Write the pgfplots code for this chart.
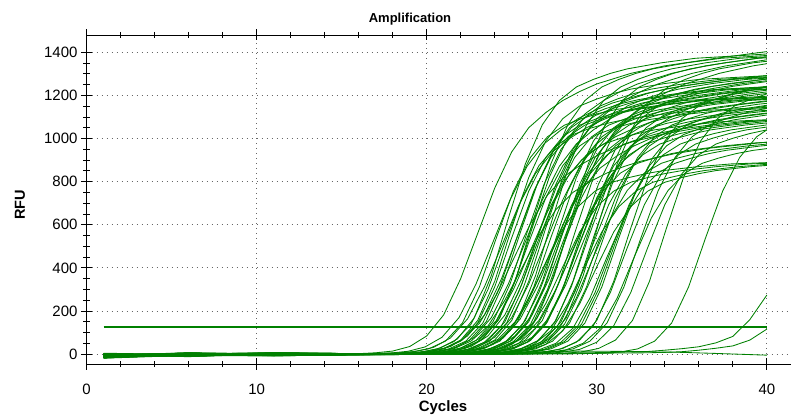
\documentclass[border=0pt]{standalone}
\usepackage{fontspec}
\setmainfont{Liberation Sans}
\usepackage{pgfplots}
\pgfplotsset{compat=1.18}
\definecolor{qgreen}{RGB}{0,128,0}
\tikzset{amp/.style={qgreen, line width=0.85bp}}

\begin{document}
\begin{tikzpicture}
\path[use as bounding box] (0,0) rectangle (791bp,417bp);
\begin{axis}[
  at={(86.5bp,53bp)}, anchor=south west,
  scale only axis, width=714.4bp, height=329bp,
  xmin=0, xmax=42, ymin=-46, ymax=1480,
  xtick={0,10,20,30,40}, ytick={0,200,...,1400},
  minor x tick num=4, minor y tick num=3,
  tick align=center, major tick length=11bp, minor tick length=6bp,
  tick style={black, line width=0.8bp},
  grid=major, major grid style={black!60, line width=0.9bp, dash pattern=on 1bp off 4bp},
  axis line style={black, line width=0.9bp},
  ticklabel style={font=\fontsize{15bp}{18bp}\selectfont},
  xticklabel style={yshift=-11bp},
  /pgf/number format/assume math mode=true,
  /pgf/number format/1000 sep={},
]
% samples, early to late
\addplot[amp] coordinates {(1,-12)(6,-4)(11,3)(15,-2)(17,6)(18,14)(19,35)(20,84)(21,182)(22,350)(23,560)(24,770)(25,938)(26,1050)(27,1120)(28,1176)(29,1218)(30,1253)(32,1302)(34,1337)(37,1372)(40,1403)};
\addplot[amp] coordinates {(1,-15)(6,2)(11,-5)(15.9,1)(17.9,5)(18.9,13)(19.9,33)(20.9,78)(21.9,169)(22.9,325)(23.9,520)(24.9,715)(25.9,871)(26.9,975)(27.9,1040)(28.9,1092)(29.9,1131)(30.9,1164)(32.9,1209)(34.9,1242)(37.9,1274)(40,1292)};
\addplot[amp] coordinates {(1,-6)(6,-10)(11,4)(16.1,-1)(18.1,4)(19.1,10)(20.1,24)(21.1,60)(22.1,144)(23.1,312)(24.1,540)(25.1,756)(26.1,912)(27.1,1008)(28.1,1062)(29.1,1092)(30.1,1116)(31.1,1134)(33.1,1158)(35.1,1176)(38.1,1188)(40,1196)};
\addplot[amp] coordinates {(1,3)(6,-7)(11,-2)(16.4,2)(18.4,5)(19.4,13)(20.4,31)(21.4,75)(22.4,163)(23.4,313)(24.4,500)(25.4,688)(26.4,838)(27.4,938)(28.4,1000)(29.4,1050)(30.4,1088)(31.4,1119)(33.4,1163)(35.4,1194)(38.4,1225)(40,1239)};
\addplot[amp] coordinates {(1,-18)(6,0)(11,6)(16.6,-3)(18.6,3)(19.6,9)(20.6,23)(21.6,58)(22.6,138)(23.6,299)(24.6,518)(25.6,725)(26.6,874)(27.6,966)(28.6,1018)(29.6,1047)(30.6,1070)(31.6,1087)(33.6,1110)(35.6,1127)(38.6,1139)(40,1144)};
\addplot[amp] coordinates {(1,-9)(6,5)(11,-3)(16.8,0)(18.8,4)(19.8,11)(20.8,28)(21.8,70)(22.8,168)(23.8,364)(24.8,630)(25.8,882)(26.8,1064)(27.8,1176)(28.8,1239)(29.8,1274)(30.8,1302)(31.8,1323)(33.8,1351)(35.8,1372)(38.8,1386)(40,1392)};
\addplot[amp] coordinates {(1,-4)(6,-12)(11,1)(17,2)(19,4)(20,10)(21,26)(22,65)(23,156)(24,338)(25,585)(26,819)(27,988)(28,1092)(29,1151)(30,1183)(31,1209)(32,1229)(34,1255)(36,1274)(39,1287)(40,1291)};
\addplot[amp] coordinates {(1,0)(6,-11)(11,2)(17,1)(19,4)(20,10)(21,24)(22,60)(23,144)(24,312)(25,540)(26,756)(27,912)(28,1008)(29,1062)(30,1092)(31,1116)(32,1134)(34,1158)(36,1176)(39,1188)(40,1192)};
\addplot[amp] coordinates {(1,0)(6,-6)(11,-9)(17.1,1)(19.1,4)(20.1,11)(21.1,28)(22.1,66)(23.1,143)(24.1,275)(25.1,440)(26.1,605)(27.1,737)(28.1,825)(29.1,880)(30.1,924)(31.1,957)(32.1,985)(34.1,1023)(36.1,1051)(39.1,1078)(40,1085)};
\addplot[amp] coordinates {(1,-14)(6,3)(11,-1)(17.3,-2)(19.3,4)(20.3,10)(21.3,24)(22.3,60)(23.3,144)(24.3,312)(25.3,540)(26.3,756)(27.3,912)(28.3,1008)(29.3,1062)(30.3,1092)(31.3,1116)(32.3,1134)(34.3,1158)(36.3,1176)(39.3,1188)(40,1190)};
\addplot[amp] coordinates {(1,-8)(6,1)(11,-2)(17.4,0)(19.4,6)(20.4,14)(21.4,35)(22.4,84)(23.4,182)(24.4,350)(25.4,560)(26.4,770)(27.4,938)(28.4,1050)(29.4,1120)(30.4,1176)(31.4,1218)(32.4,1253)(34.4,1302)(36.4,1337)(39.4,1372)(40,1378)};
\addplot[amp] coordinates {(1,-7)(6,-2)(11,7)(17.5,0)(19.5,4)(20.5,10)(21.5,25)(22.5,63)(23.5,150)(24.5,325)(25.5,563)(26.5,788)(27.5,950)(28.5,1050)(29.5,1106)(30.5,1138)(31.5,1163)(32.5,1181)(34.5,1206)(36.5,1225)(39.5,1238)(40,1240)};
\addplot[amp] coordinates {(1,-16)(6,-5)(11,2)(17.6,-1)(19.6,4)(20.6,10)(21.6,25)(22.6,60)(23.6,130)(24.6,250)(25.6,400)(26.6,550)(27.6,670)(28.6,750)(29.6,800)(30.6,840)(31.6,870)(32.6,895)(34.6,930)(36.6,955)(39.6,980)(40,983)};
\addplot[amp] coordinates {(1,2)(6,-8)(11,-4)(17.8,1)(19.8,5)(20.8,13)(21.8,33)(22.8,78)(23.8,169)(24.8,325)(25.8,520)(26.8,715)(27.8,871)(28.8,975)(29.8,1040)(30.8,1092)(31.8,1131)(32.8,1164)(34.8,1209)(36.8,1242)(39.8,1274)(40,1276)};
\addplot[amp] coordinates {(1,-9)(6,5)(11,-1)(17.9,0)(19.9,4)(20.9,10)(21.9,25)(22.9,63)(23.9,150)(24.9,325)(25.9,563)(26.9,788)(27.9,950)(28.9,1050)(29.9,1106)(30.9,1138)(31.9,1163)(32.9,1181)(34.9,1206)(36.9,1225)(39.9,1238)(40,1238)};
\addplot[amp] coordinates {(1,-10)(6,4)(11,-6)(18,0)(20,3)(21,9)(22,23)(23,58)(24,138)(25,299)(26,518)(27,725)(28,874)(29,966)(30,1018)(31,1047)(32,1070)(33,1087)(35,1110)(37,1127)(40,1139)};
\addplot[amp] coordinates {(1,-3)(6,-11)(11,5)(18.1,-2)(20.1,5)(21.1,12)(22.1,30)(23.1,72)(24.1,156)(25.1,300)(26.1,480)(27.1,660)(28.1,804)(29.1,900)(30.1,960)(31.1,1008)(32.1,1044)(33.1,1074)(35.1,1116)(37.1,1146)(40,1175)};
\addplot[amp] coordinates {(1,-17)(6,-2)(11,1)(18.2,-1)(20.2,4)(21.2,10)(22.2,26)(23.2,65)(24.2,156)(25.2,338)(26.2,585)(27.2,819)(28.2,988)(29.2,1092)(30.2,1151)(31.2,1183)(32.2,1209)(33.2,1229)(35.2,1255)(37.2,1274)(40,1286)};
\addplot[amp] coordinates {(1,-13)(6,1)(11,-3)(18.3,1)(20.3,4)(21.3,11)(22.3,28)(23.3,70)(24.3,168)(25.3,364)(26.3,630)(27.3,882)(28.3,1064)(29.3,1176)(30.3,1239)(31.3,1274)(32.3,1302)(33.3,1323)(35.3,1351)(37.3,1372)(40,1385)};
\addplot[amp] coordinates {(1,-5)(6,6)(11,-8)(18.4,0)(20.4,3)(21.4,9)(22.4,22)(23.4,55)(24.4,132)(25.4,286)(26.4,495)(27.4,693)(28.4,836)(29.4,924)(30.4,974)(31.4,1001)(32.4,1023)(33.4,1040)(35.4,1062)(37.4,1078)(40,1087)};
\addplot[amp] coordinates {(1,-17)(6,-3)(11,3)(18.6,-1)(20.6,4)(21.6,10)(22.6,25)(23.6,63)(24.6,150)(25.6,325)(26.6,563)(27.6,788)(28.6,950)(29.6,1050)(30.6,1106)(31.6,1138)(32.6,1163)(33.6,1181)(35.6,1206)(37.6,1225)(40,1235)};
\addplot[amp] coordinates {(1,-14)(6,0)(11,-4)(18.6,2)(20.6,6)(21.6,14)(22.6,35)(23.6,84)(24.6,182)(25.6,350)(26.6,560)(27.6,770)(28.6,938)(29.6,1050)(30.6,1120)(31.6,1176)(32.6,1218)(33.6,1253)(35.6,1302)(37.6,1337)(40,1365)};
\addplot[amp] coordinates {(1,1)(6,-7)(11,0)(18.7,2)(20.7,4)(21.7,10)(22.7,24)(23.7,60)(24.7,144)(25.7,312)(26.7,540)(27.7,756)(28.7,912)(29.7,1008)(30.7,1062)(31.7,1092)(32.7,1116)(33.7,1134)(35.7,1158)(37.7,1176)(40,1186)};
\addplot[amp] coordinates {(1,-11)(6,2)(11,-4)(18.9,1)(20.9,3)(21.9,7)(22.9,18)(23.9,45)(24.9,108)(25.9,234)(26.9,405)(27.9,567)(28.9,684)(29.9,756)(30.9,797)(31.9,819)(32.9,837)(33.9,851)(35.9,869)(37.9,882)(40,888)};
\addplot[amp] coordinates {(1,-8)(6,-1)(11,6)(19,-1)(21,4)(22,10)(23,26)(24,65)(25,156)(26,338)(27,585)(28,819)(29,988)(30,1092)(31,1151)(32,1183)(33,1209)(34,1229)(36,1255)(38,1274)(40,1283)};
\addplot[amp] coordinates {(1,-5)(6,3)(11,-7)(19,0)(21,5)(22,13)(23,33)(24,78)(25,169)(26,325)(27,520)(28,715)(29,871)(30,975)(31,1040)(32,1092)(33,1131)(34,1164)(36,1209)(38,1242)(40,1264)};
\addplot[amp] coordinates {(1,-2)(6,-9)(11,-2)(19.2,0)(21.2,5)(22.2,12)(23.2,29)(24.2,69)(25.2,150)(26.2,288)(27.2,460)(28.2,633)(29.2,771)(30.2,863)(31.2,920)(32.2,966)(33.2,1001)(34.2,1029)(36.2,1070)(38.2,1098)(40,1116)};
\addplot[amp] coordinates {(1,-15)(6,4)(11,1)(19.3,-2)(21.3,4)(22.3,10)(23.3,24)(24.3,60)(25.3,144)(26.3,312)(27.3,540)(28.3,756)(29.3,912)(30.3,1008)(31.3,1062)(32.3,1092)(33.3,1116)(34.3,1134)(36.3,1158)(38.3,1176)(40,1183)};
\addplot[amp] coordinates {(1,-12)(6,-4)(11,4)(19.4,1)(21.4,4)(22.4,11)(23.4,28)(24.4,70)(25.4,168)(26.4,364)(27.4,630)(28.4,882)(29.4,1064)(30.4,1176)(31.4,1239)(32.4,1274)(33.4,1302)(34.4,1323)(36.4,1351)(38.4,1372)(40,1379)};
\addplot[amp] coordinates {(1,-6)(6,-4)(11,-7)(19.5,1)(21.5,5)(22.5,13)(23.5,31)(24.5,75)(25.5,163)(26.5,313)(27.5,500)(28.5,688)(29.5,838)(30.5,938)(31.5,1000)(32.5,1050)(33.5,1088)(34.5,1119)(36.5,1163)(38.5,1194)(40,1209)};
\addplot[amp] coordinates {(1,4)(6,-2)(11,2)(19.6,0)(21.6,3)(22.6,9)(23.6,22)(24.6,55)(25.6,132)(26.6,286)(27.6,495)(28.6,693)(29.6,836)(30.6,924)(31.6,974)(32.6,1001)(33.6,1023)(34.6,1040)(36.6,1062)(38.6,1078)(40,1083)};
\addplot[amp] coordinates {(1,-19)(6,-6)(11,4)(19.8,-1)(21.8,4)(22.8,10)(23.8,26)(24.8,65)(25.8,156)(26.8,338)(27.8,585)(28.8,819)(29.8,988)(30.8,1092)(31.8,1151)(32.8,1183)(33.8,1209)(34.8,1229)(36.8,1255)(38.8,1274)(40,1280)};
\addplot[amp] coordinates {(1,-9)(6,3)(11,-5)(19.9,1)(21.9,4)(22.9,10)(23.9,24)(24.9,60)(25.9,144)(26.9,312)(27.9,540)(28.9,756)(29.9,912)(30.9,1008)(31.9,1062)(32.9,1092)(33.9,1116)(34.9,1134)(36.9,1158)(38.9,1176)(40,1181)};
\addplot[amp] coordinates {(1,-2)(6,4)(11,-3)(20,0)(22,4)(23,10)(24,25)(25,63)(26,150)(27,325)(28,563)(29,788)(30,950)(31,1050)(32,1106)(33,1138)(34,1163)(35,1181)(37,1206)(39,1225)(40,1229)};
\addplot[amp] coordinates {(1,-7)(6,2)(11,-4)(20,1)(22,3)(23,7)(24,18)(25,45)(26,108)(27,234)(28,405)(29,567)(30,684)(31,756)(32,797)(33,819)(34,837)(35,851)(37,869)(39,882)(40,885)};
\addplot[amp] coordinates {(1,-1)(6,-10)(11,0)(20.1,-1)(22.1,3)(23.1,9)(24.1,23)(25.1,58)(26.1,138)(27.1,299)(28.1,518)(29.1,725)(30.1,874)(31.1,966)(32.1,1018)(33.1,1047)(34.1,1070)(35.1,1087)(37.1,1110)(39.1,1127)(40,1130)};
\addplot[amp] coordinates {(1,-16)(6,-5)(11,3)(20.2,0)(22.2,6)(23.2,14)(24.2,35)(25.2,84)(26.2,182)(27.2,350)(28.2,560)(29.2,770)(30.2,938)(31.2,1050)(32.2,1120)(33.2,1176)(34.2,1218)(35.2,1253)(37.2,1302)(39.2,1337)(40,1347)};
\addplot[amp] coordinates {(1,-12)(6,1)(11,5)(20.3,0)(22.3,4)(23.3,10)(24.3,25)(25.3,63)(26.3,150)(27.3,325)(28.3,563)(29.3,788)(30.3,950)(31.3,1050)(32.3,1106)(33.3,1138)(34.3,1163)(35.3,1181)(37.3,1206)(39.3,1225)(40,1227)};
\addplot[amp] coordinates {(1,-7)(6,-5)(11,-3)(20.4,2)(22.4,3)(23.4,8)(24.4,20)(25.4,50)(26.4,120)(27.4,260)(28.4,450)(29.4,630)(30.4,760)(31.4,840)(32.4,885)(33.4,910)(34.4,930)(35.4,945)(37.4,965)(39.4,980)(40,982)};
\addplot[amp] coordinates {(1,-1)(6,-8)(11,2)(20.5,1)(22.5,4)(23.5,11)(24.5,28)(25.5,70)(26.5,168)(27.5,364)(28.5,630)(29.5,882)(30.5,1064)(31.5,1176)(32.5,1239)(33.5,1274)(34.5,1302)(35.5,1323)(37.5,1351)(39.5,1372)(40,1374)};
\addplot[amp] coordinates {(1,-14)(6,5)(11,-1)(20.6,0)(22.6,5)(23.6,12)(24.6,30)(25.6,72)(26.6,156)(27.6,300)(28.6,480)(29.6,660)(30.6,804)(31.6,900)(32.6,960)(33.6,1008)(34.6,1044)(35.6,1074)(37.6,1116)(39.6,1146)(40,1150)};
\addplot[amp] coordinates {(1,3)(6,-8)(11,3)(20.8,-2)(22.8,4)(23.8,10)(24.8,26)(25.8,65)(26.8,156)(27.8,338)(28.8,585)(29.8,819)(30.8,988)(31.8,1092)(32.8,1151)(33.8,1183)(34.8,1209)(35.8,1229)(37.8,1255)(39.8,1274)(40,1275)};
\addplot[amp] coordinates {(1,-18)(6,-3)(11,0)(20.9,-1)(22.9,3)(23.9,9)(24.9,22)(25.9,55)(26.9,132)(27.9,286)(28.9,495)(29.9,693)(30.9,836)(31.9,924)(32.9,974)(33.9,1001)(34.9,1023)(35.9,1040)(37.9,1062)(39.9,1078)(40,1078)};
\addplot[amp] coordinates {(1,-10)(6,-3)(11,-6)(21,1)(23,3)(24,9)(25,23)(26,58)(27,138)(28,299)(29,518)(30,725)(31,874)(32,966)(33,1018)(34,1047)(35,1070)(36,1087)(38,1110)(40,1127)};
\addplot[amp] coordinates {(1,-4)(6,2)(11,1)(21.1,0)(23.1,4)(24.1,10)(25.1,25)(26.1,63)(27.1,150)(28.1,325)(29.1,563)(30.1,788)(31.1,950)(32.1,1050)(33.1,1106)(34.1,1138)(35.1,1163)(36.1,1181)(38.1,1206)(40,1224)};
\addplot[amp] coordinates {(1,-3)(6,4)(11,-6)(21.2,0)(23.2,5)(24.2,13)(25.2,33)(26.2,78)(27.2,169)(28.2,325)(29.2,520)(30.2,715)(31.2,871)(32.2,975)(33.2,1040)(34.2,1092)(35.2,1131)(36.2,1164)(38.2,1209)(40,1239)};
\addplot[amp] coordinates {(1,-16)(6,-1)(11,-4)(21.3,1)(23.3,3)(24.3,7)(25.3,18)(26.3,45)(27.3,108)(28.3,234)(29.3,405)(30.3,567)(31.3,684)(32.3,756)(33.3,797)(34.3,819)(35.3,837)(36.3,851)(38.3,869)(40,880)};
\addplot[amp] coordinates {(1,-8)(6,6)(11,2)(21.5,-1)(23.5,4)(24.5,10)(25.5,24)(26.5,60)(27.5,144)(28.5,312)(29.5,540)(30.5,756)(31.5,912)(32.5,1008)(33.5,1062)(34.5,1092)(35.5,1116)(36.5,1134)(38.5,1158)(40,1172)};
\addplot[amp] coordinates {(1,-6)(6,-3)(11,5)(21.6,-1)(23.6,4)(24.6,10)(25.6,26)(26.6,65)(27.6,156)(28.6,338)(29.6,585)(30.6,819)(31.6,988)(32.6,1092)(33.6,1151)(34.6,1183)(35.6,1209)(36.6,1229)(38.6,1255)(40,1268)};
\addplot[amp] coordinates {(1,0)(6,-7)(11,-2)(21.7,0)(23.7,3)(24.7,9)(25.7,22)(26.7,55)(27.7,132)(28.7,286)(29.7,495)(30.7,693)(31.7,836)(32.7,924)(33.7,974)(34.7,1001)(35.7,1023)(36.7,1040)(38.7,1062)(40,1072)};
\addplot[amp] coordinates {(1,-4)(6,-6)(11,0)(21.8,1)(23.8,3)(24.8,8)(25.8,20)(26.8,50)(27.8,120)(28.8,260)(29.8,450)(30.8,630)(31.8,760)(32.8,840)(33.8,885)(34.8,910)(35.8,930)(36.8,945)(38.8,965)(40,974)};
\addplot[amp] coordinates {(1,-13)(6,0)(11,4)(21.9,1)(23.9,4)(24.9,10)(25.9,25)(26.9,63)(27.9,150)(28.9,325)(29.9,563)(30.9,788)(31.9,950)(32.9,1050)(33.9,1106)(34.9,1138)(35.9,1163)(36.9,1181)(38.9,1206)(40,1216)};
\addplot[amp] coordinates {(1,-10)(6,1)(11,-2)(22,0)(24,3)(25,7)(26,18)(27,45)(28,108)(29,234)(30,405)(31,567)(32,684)(33,756)(34,797)(35,819)(36,837)(37,851)(39,869)(40,875)};
\addplot[amp] coordinates {(1,-5)(6,-9)(11,-1)(22.1,0)(24.1,3)(25.1,9)(26.1,23)(27.1,58)(28.1,138)(29.1,299)(30.1,518)(31.1,725)(32.1,874)(33.1,966)(34.1,1018)(35.1,1047)(36.1,1070)(37.1,1087)(39.1,1110)(40,1118)};
\addplot[amp] coordinates {(1,-7)(6,0)(11,-8)(22.2,1)(24.2,4)(25.2,11)(26.2,28)(27.2,70)(28.2,168)(29.2,364)(30.2,630)(31.2,882)(32.2,1064)(33.2,1176)(34.2,1239)(35.2,1274)(36.2,1302)(37.2,1323)(39.2,1351)(40,1358)};
\addplot[amp] coordinates {(1,-18)(6,3)(11,-3)(22.4,1)(24.4,4)(25.4,10)(26.4,24)(27.4,60)(28.4,144)(29.4,312)(30.4,540)(31.4,756)(32.4,912)(33.4,1008)(34.4,1062)(35.4,1092)(36.4,1116)(37.4,1134)(39.4,1158)(40,1163)};
\addplot[amp] coordinates {(1,-3)(6,-4)(11,5)(22.6,-1)(24.6,3)(25.6,8)(26.6,20)(27.6,50)(28.6,120)(29.6,260)(30.6,450)(31.6,630)(32.6,760)(33.6,840)(34.6,885)(35.6,910)(36.6,930)(37.6,945)(39.6,965)(40,968)};
\addplot[amp] coordinates {(1,-11)(6,2)(11,-6)(22.9,0)(24.9,3)(25.9,9)(26.9,22)(27.9,55)(28.9,132)(29.9,286)(30.9,495)(31.9,693)(32.9,836)(33.9,924)(34.9,974)(35.9,1001)(36.9,1023)(37.9,1040)(40,1063)};
\addplot[amp] coordinates {(1,-13)(6,2)(11,-5)(23.1,0)(25.1,3)(26.1,9)(27.1,23)(28.1,58)(29.1,138)(30.1,299)(31.1,518)(32.1,725)(33.1,874)(34.1,966)(35.1,1018)(36.1,1047)(37.1,1070)(38.1,1087)(40,1109)};
\addplot[amp] coordinates {(1,-6)(6,-2)(11,0)(23.3,1)(25.3,4)(26.3,10)(27.3,24)(28.3,60)(29.3,144)(30.3,312)(31.3,540)(32.3,756)(33.3,912)(34.3,1008)(35.3,1062)(36.3,1092)(37.3,1116)(38.3,1134)(40,1154)};
\addplot[amp] coordinates {(1,-14)(6,4)(11,-2)(23.8,0)(25.8,3)(26.8,9)(27.8,22)(28.8,55)(29.8,132)(30.8,286)(31.8,495)(32.8,693)(33.8,836)(34.8,924)(35.8,974)(36.8,1001)(37.8,1023)(38.8,1040)(40,1053)};
\addplot[amp] coordinates {(1,-11)(6,-1)(11,3)(24,0)(26,4)(27,10)(28,26)(29,65)(30,156)(31,338)(32,585)(33,819)(34,988)(35,1092)(36,1151)(37,1183)(38,1209)(39,1229)(40,1242)};
\addplot[amp] coordinates {(1,2)(6,-6)(11,3)(24.2,-1)(26.2,3)(27.2,8)(28.2,20)(29.2,50)(30.2,120)(31.2,260)(32.2,450)(33.2,630)(34.2,760)(35.2,840)(36.2,885)(37.2,910)(38.2,930)(39.2,945)(40,953)};
\addplot[amp] coordinates {(1,-9)(6,-1)(11,-5)(24.6,0)(26.6,4)(27.6,10)(28.6,24)(29.6,60)(30.6,144)(31.6,312)(32.6,540)(33.6,756)(34.6,912)(35.6,1008)(36.6,1062)(37.6,1092)(38.6,1116)(39.6,1134)(40,1139)};
\addplot[amp] coordinates {(1,-15)(6,1)(11,2)(25,1)(27,3)(28,9)(29,22)(30,55)(31,132)(32,286)(33,495)(34,693)(35,836)(36,924)(37,974)(38,1001)(39,1023)(40,1040)};
\addplot[amp] coordinates {(1,-2)(6,-5)(11,-3)(26.1,0)(28.1,4)(29.1,10)(30.1,26)(31.1,65)(32.1,156)(33.1,338)(34.1,585)(35.1,819)(36.1,988)(37.1,1092)(38.1,1151)(39.1,1183)(40,1207)};
\addplot[amp] coordinates {(1,-7)(6,3)(11,-4)(28.4,1)(30.4,4)(31.4,10)(32.4,24)(33.4,60)(34.4,144)(35.4,312)(36.4,540)(37.4,756)(38.4,912)(39.4,1008)(40,1040)};
\addplot[amp] coordinates {(1,-3)(6,2)(11,-5)(20,0)(28,4)(31,8)(33,12)(34,18)(35,25)(36,34)(37,52)(38,82)(39,160)(40,274)};
\addplot[amp] coordinates {(1,-10)(6,-2)(11,3)(22,1)(30,4)(33,6)(34,8)(35,11)(36,18)(37,27)(38,38)(39,65)(40,116)};
\addplot[amp] coordinates {(1,-5)(6,0)(11,-3)(16,2)(21,6)(26,10)(29,14)(32,12)(35,8)(37,3)(40,-5)};
% threshold
\addplot[qgreen, line width=1.8bp] coordinates {(1,127)(40,127)};
\end{axis}
\node[font=\bfseries\fontsize{13bp}{15bp}\selectfont] at (410bp,397.5bp) {Amplification};
\node[font=\bfseries\fontsize{14.5bp}{17bp}\selectfont, rotate=90] at (20bp,212bp) {RFU};
\node[font=\bfseries\fontsize{15bp}{18bp}\selectfont] at (443bp,9.5bp) {Cycles};
\end{tikzpicture}
\end{document}
